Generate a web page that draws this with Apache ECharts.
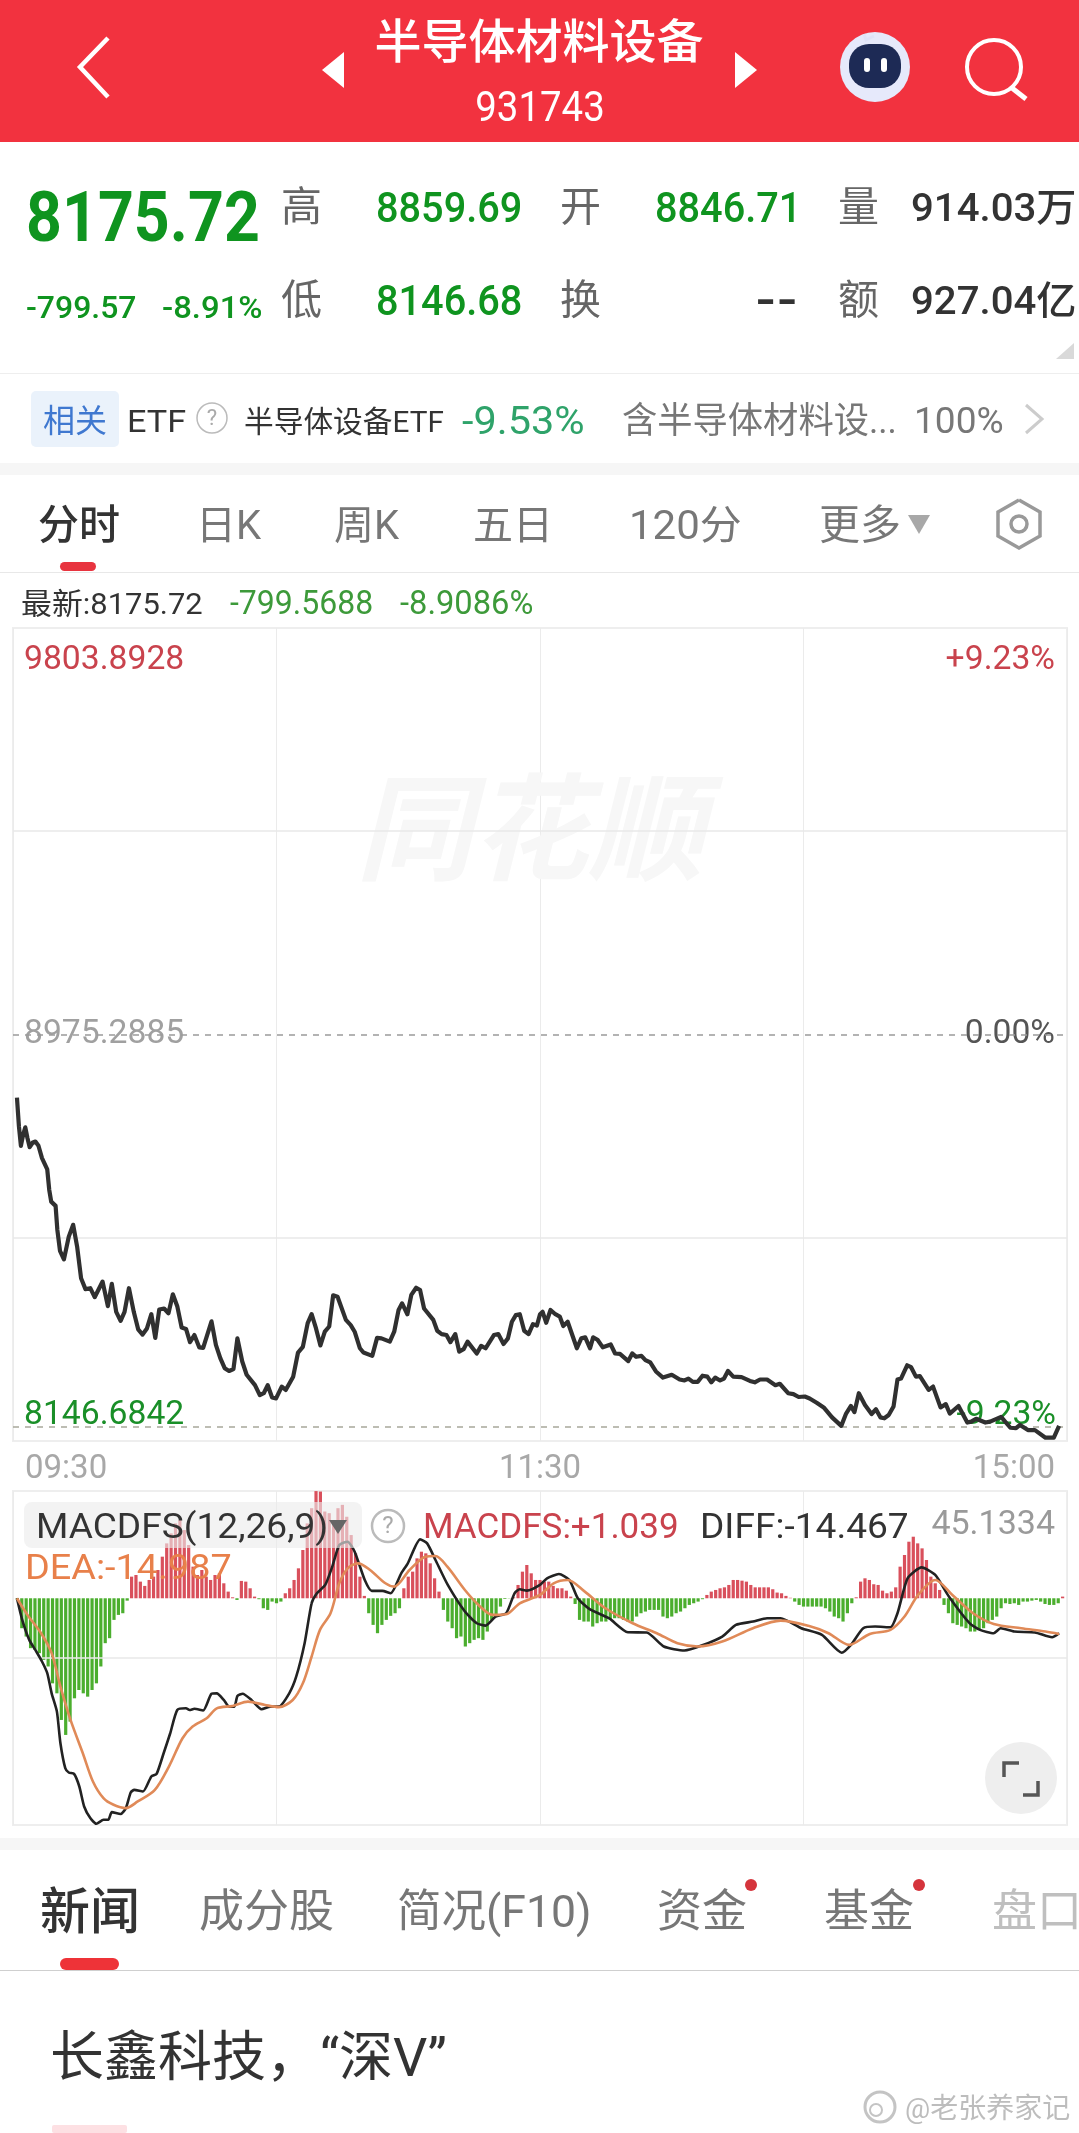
<!DOCTYPE html>
<html><head><meta charset="utf-8">
<style>html,body{margin:0;padding:0;background:#fff}#c{width:1079px;height:2133px}</style>
<script src="https://cdn.jsdelivr.net/npm/echarts@6/dist/echarts.min.js"></script>
</head><body><div id="c"></div>
<script>
const timeLabels = {0:'09:30',120:'11:30',240:'15:00'};
const priceTicks = ['9803.8928','8975.2885','8146.6842'];
const pctTicks = ['+9.23%','0.00%','-9.23%'];
const priceRange = [8116, 9834.5];
const macdRange = [-95.4, 45.1334];

const lineMinutes = [0.9,1.35,1.8,2.3,2.8,3.3,3.8,4.5,5.1,5.8,6.6,7.8,8.25,8.7,9.7,10.1,10.7,11.6,12.7,13.7,14.6,15.5,16.5,17.6,18.6,20.4,21.6,22.5,23.5,24.5,25.4,26.4,27.5,28.5,29.5,30.5,31.5,32.4,33.3,34.4,35.4,36.4,37.4,38.4,39.4,40.3,41.3,42.4,43.3,45.2,46.2,47.2,48.2,49.2,50.2,51.1,52.2,53.2,55.1,56.2,57.1,58,59,59.9,61.2,62.1,63.8,64.9,66,67.1,68,69,70,71,72,72.9,73.9,75.8,76.9,77.8,79,79.8,81.8,82.9,83.9,85.8,86.8,87.8,88.6,89.8,90.7,91.8,92.7,93.6,95.7,96.6,97.6,98.7,99.6,100.7,101.6,102.6,103.5,105.6,106.6,107.6,109.5,110.5,111.7,112.7,113.6,114.5,115.4,116.4,117.4,118.4,119.3,120,120.6,121.4,122.4,123.5,124.5,125.3,126.3,128.4,129.4,130.3,131.4,132.1,133.1,134.3,136.1,137.1,138.2,140.1,141,141.9,143.1,144,145.1,146.4,148,150,151.8,152.9,153.8,154.8,155.9,157,158.1,159,159.9,161,161.9,162.8,164,165.9,167.8,168.9,170.1,171.7,173.6,174.6,176.5,177.7,178.9,180.3,181.4,183,184.6,186.5,188.6,189.7,190.8,191.6,192.6,194,195.5,196.5,197.5,198.4,199.4,200.5,201.4,202.2,203.6,204.5,205.6,206.5,208.5,209.5,211.2,212.4,213.3,215.3,217.3,218.2,219.3,221.4,222.5,225,227.1,228.4,229.3,231.1,232.7,235.1,237,238.2];
const linePrices = [8842,8781,8740,8763,8779,8756,8737,8747,8749,8740,8714,8690,8647,8622,8613,8562,8518,8500,8548,8573,8527,8460,8437,8439,8420,8453,8401,8448,8389,8370,8389,8439,8389,8352,8341,8354,8384,8334,8394,8396,8386,8426,8401,8356,8353,8325,8340,8314,8313,8369,8319,8291,8270,8264,8268,8333,8284,8256,8234,8213,8217,8234,8208,8206,8231,8224,8252,8303,8315,8365,8384,8354,8318,8347,8358,8424,8421,8372,8361,8347,8312,8303,8296,8334,8333,8326,8347,8393,8407,8384,8425,8440,8435,8396,8372,8349,8342,8340,8325,8342,8305,8310,8326,8301,8317,8312,8340,8342,8321,8333,8368,8382,8384,8349,8342,8363,8360,8384,8389,8366,8393,8384,8379,8359,8368,8312,8333,8335,8312,8335,8330,8314,8320,8301,8300,8285,8301,8294,8296,8287,8282,8263,8250,8256,8246,8244,8248,8241,8241,8254,8252,8240,8250,8244,8248,8264,8252,8251,8243,8240,8246,8246,8234,8237,8217,8215,8209,8210,8206,8197,8187,8166,8148,8174,8190,8177,8217,8192,8173,8183,8166,8164,8171,8189,8246,8248,8276,8272,8252,8253,8224,8231,8187,8194,8174,8190,8155,8157,8163,8155,8157,8167,8144,8143,8150,8139,8139,8123,8123,8148];

const macdBars = [-0.7,-12.6,-16.1,-21,-21.7,-23.1,-25.9,-28.7,-35.8,-40,-51.2,-57.5,-51.9,-42.1,-38.6,-40,-41.4,-38.6,-35.8,-28.7,-18.9,-16.8,-9.1,-7,-6.3,-1,
9.1,9.8,7,5.2,7.7,9.1,11.9,17.5,23.1,27.3,31.5,32.9,28.7,22.4,13.3,9.8,11.9,9.1,7.7,9.8,10.5,6.3,2.8,0.4,-0.7,7.3,7,4.2,0.7,-0.4,-4.2,-4.9,-1.4,-2.1,-1.4,2.1,4.2,7.7,12.6,20.3,31.5,37.9,45.1,44.9,36.5,35.8,31.5,37.9,39.3,34.3,26.6,18.9,9.1,1,-6.3,-11.2,-14.7,-11.2,-9.1,-7.4,-6.3,-4.2,4.2,9.1,11.2,16.8,19.6,18.9,14.7,8.4,2.8,-4.9,-9.8,-12.6,-16.8,-16.1,-20.3,-18.9,-17.5,-16.8,-17.5,-14,-9.1,-7,-3.5,-0.3,-0.1,0.4,5.6,11.2,14,10.5,7.7,7.7,7,
7,5.2,4.2,4.2,3.2,0.7,-2.4,-9.1,-9.8,-9.8,-11.9,-10.5,-9.8,-9.8,-9.1,-8.4,-8.4,-9.1,-9.8,-9.8,-7.7,-6.3,-5.6,-4.9,-4.9,-4.9,-7.7,-8.4,-7.7,-6.3,-5.6,-4.2,-2.8,-2.1,-1.4,-0.4,1.4,2.8,3.5,4.2,4.6,5.6,7.7,7.7,7.4,7,5.6,4.6,4.6,4.6,4.6,3.8,2.4,2.1,1,0.2,-1.4,-2.8,-3.5,-3.5,-3.5,-3.5,-3.5,-4.2,-5.6,-7.7,-8.4,-9.8,-6.3,-2.1,0.4,7,8.4,7.7,5.9,5.6,3.2,2.1,2.8,4.6,13.3,18.2,23.8,25.9,23.1,21,16.1,9.1,6.3,3.5,-2.8,-6.3,-10.5,-11.2,-11.9,-12.6,-14,-14,-13.3,-12.6,-10.5,-9.1,-7.7,-4.2,-2.1,-2.4,-2.1,-2.8,-1.4,-1.4,-1,-0.7,-1.4,-2.4,-2.8,-2.8,-2.1,0.7];

const diffMinutes = [0.9,2.1,3.7,5.3,6.6,7.8,8.8,10,10.8,11.9,12.7,13.9,15.1,16.2,17.6,19,20.6,21.7,22.5,24.5,25.7,26.8,27.6,29.6,31.5,32.7,34.3,35.8,37.4,39.4,40.2,41.3,43.3,45.2,46.4,48,49.2,50.4,51.1,52.3,54.3,56.6,58.6,60.5,62.9,64.5,66.4,68,69.2,71.1,72.7,74.3,76.2,77.8,80.1,81.7,84.1,86,88.4,89.9,92.7,94.3,96.2,99,102.9,105.6,107.6,109.9,112.3,114.2,115.4,117,120,121.6,124.3,126.7,128.6,131.3,135.7,140,144.3,148.2,152.9,156.8,161.5,164.6,168.5,171.7,174.8,179.5,184.2,188.7,190.8,193.6,196.3,199.8,201.4,203.7,206.9,210,213.1,217.8,220.2,223.3,224.9,228,232.7,236.6,238.2];
const diffValues = [0,-9.1,-17.5,-22.4,-26.6,-31.5,-40,-47.7,-61,-71.5,-73.3,-73.9,-79.2,-87.6,-92.5,-94.9,-93.2,-93.2,-90,-90.8,-88.3,-81.7,-80.6,-81.3,-75,-73.9,-65.2,-56.8,-47,-46.3,-47,-46.5,-47.2,-40.2,-40,-42.8,-45.6,-45.6,-41.1,-40.2,-42.8,-46.7,-45.6,-45.6,-40,-32.9,-18.9,-2.1,2.1,5.6,13.3,22.4,23.8,19.6,7.7,3.1,3.1,2.1,10.5,14.7,24.8,23.1,16.1,5.6,-5.6,-10.5,-11.5,-7.7,-6.3,2.1,3.8,3.2,5.6,8.4,10.2,7.7,0,-4.6,-8.4,-14.3,-14.4,-20.3,-22,-19.9,-16.1,-11.2,-9.8,-8.4,-8.4,-12.6,-15.4,-22.9,-19.6,-12.6,-11.9,-12.2,-6.3,8.4,13,9.8,0.7,-10.5,-13.3,-14.7,-12.6,-14,-14.4,-16.4,-14.7];

const deaMinutes = [0.9,3.3,6.4,8.8,10.8,13.1,15.9,18.2,20.6,22.9,25.7,28.4,32.3,35.5,38.6,40.9,44.1,46.4,50,53.5,57.4,60.5,63.7,66,68,69.9,72.3,74.3,76.2,78.6,81.3,84.8,86.8,90.3,93.9,96.2,98.9,102.9,106,109.2,112.3,115.4,120,123.1,126.3,130.2,134.9,141.1,146.6,151.3,156,161.5,168.5,174.8,181.1,185.7,190.4,195.1,199.8,203,206.1,210,213.9,218.6,223.3,229.6,235.1,238.2];
const deaValues = [0,-7,-14.7,-23.1,-37.2,-51.2,-65.2,-77.1,-84.1,-86.9,-88.3,-85.5,-80.6,-70.8,-58.9,-54,-50.5,-46.3,-45.3,-43.5,-44.9,-45.8,-42.8,-35.8,-24.5,-13.3,-6.3,6.3,12.6,14.7,11.9,6.3,4.9,11.9,17.5,17.8,13.3,3.5,-2.8,-7,-6.7,-2.1,1.4,6.3,7.7,2.8,-4.2,-10.5,-14.7,-18.9,-20.3,-18.2,-12.6,-9.4,-11.6,-14.7,-19.6,-15,-13.3,-7.7,1.4,7.7,1.4,-6.3,-10.8,-12.6,-14,-15];

const zip = (a,b)=>a.map((v,i)=>[v,b[i]]);
const FONT = "Roboto,'Noto Sans CJK SC',sans-serif";
const G=[];
function T(x,y,text,size,fill,o={}){G.push({type:'text',x,y:y+12,z:o.z??100,scaleX:o.sx||1,scaleY:o.sy||1,silent:true,
  style:{text,fill,fontSize:size,fontFamily:o.ff||FONT,fontWeight:o.w||'normal',fontStyle:o.it||'normal',align:o.a||'left',verticalAlign:'middle',opacity:o.op??1}});}
function R(x,y,w,h,fill,r=0,z=50,op=1){G.push({type:'rect',z,silent:true,shape:{x,y,width:w,height:h,r},style:{fill,opacity:op}});}
function P(points,stroke,w,z=100){G.push({type:'polyline',z,silent:true,shape:{points},style:{stroke,lineWidth:w,fill:null}});}
function Tri(points,fill,z=100){G.push({type:'polygon',z,silent:true,shape:{points},style:{fill}});}
function C(cx,cy,r,fill,stroke,w,z=100){G.push({type:'circle',z,silent:true,shape:{cx,cy,r},style:{fill:fill||null,stroke:stroke||null,lineWidth:w||0}});}

const GREEN='#0f941f', GRAY='#777', DARK='#333', RED='#c9434d';
// header
R(0,0,1079,142,'#f2323f');
T(539,34,'半导体材料设备',47,'#fff',{a:'center',w:'500'});
T(540,98,'931743',40,'#fff',{a:'center',sy:1.05,sx:.96});
P([[108,38],[80,67],[108,97]],'#fff',4.5);
Tri([[344,52],[322,70],[344,88]],'#fff');
Tri([[735,52],[757,70],[735,88]],'#fff');
C(875,67,35,'#e6e9fb');
P([[874,36],[866,40],[864,34]],'#dfe3f8',3);
R(849,44,52,44,'#1d2a55',20,101);
R(864,58,6,14,'#fff',3,102); R(881,58,6,14,'#fff',3,102);
C(994,67,27,null,'#fff',4);
P([[1012,88],[1026,99]],'#fff',5);
// quote
T(26,211,'8175.72',70,GREEN,{w:'bold',sx:.895});
T(26,298,'-799.57',31,GREEN,{sx:1.03,w:'500'});
T(162,298,'-8.91%',31,GREEN,{sx:1.06,w:'500'});
T(281,199,'高',41,'#666'); T(281,292,'低',41,'#666');
T(376,199,'8859.69',42,GREEN,{sx:.945,w:'500'}); T(376,292,'8146.68',42,GREEN,{sx:.945,w:'500'});
T(560,199,'开',41,'#666'); T(560,292,'换',41,'#666');
T(655,199,'8846.71',42,GREEN,{sx:.945,w:'500'}); T(798,292,'--',42,DARK,{a:'right',w:'bold',sx:1.3});
T(838,199,'量',41,'#666'); T(838,292,'额',41,'#666');
T(911,199,'914.03万',39,DARK,{sx:1.03,w:'500'}); T(911,292,'927.04亿',39,DARK,{sx:1.03,w:'500'});
Tri([[1074,343],[1074,359],[1056,359]],'#d9d9d9');
R(0,373,1079,1,'#eeeeee');
// ETF row
R(31,391,88,56,'#eaf2fb',5);
T(75,412,'相关',32,'#3f78d0',{a:'center'});
T(127,412,'ETF',32,DARK,{sx:1.07});
C(212,418,15,null,'#bbb',1.5); T(212,407,'?',22,'#aaa',{a:'center'});
T(244,412,'半导体设备ETF',30,DARK,{sx:.99});
T(462,412,'-9.53%',38,'#2fa36a',{sx:1.09});
T(622,412,'含半导体材料设...',36,GRAY,{sx:.98});
T(914,412,'100%',36,GRAY,{sx:1.03});
P([[1026,405],[1042,419],[1026,433]],'#ccc',3);
R(0,463,1079,12,'#f6f6f6');
// tabs
T(38,517,'分时',41,DARK,{w:'500'});
T(196,517,'日K',40,GRAY);
T(334,517,'周K',40,GRAY);
T(473,517,'五日',40,GRAY);
T(629,517,'120分',40,GRAY,{sx:1.05});
T(819,517,'更多',41,GRAY);
Tri([[908,515],[930,515],[919,534]],'#a8a8a8');
P([[1019,500],[1040,512],[1040,536],[1019,548],[998,536],[998,512],[1019,500]],'#999',3.5);
C(1019,524,8,null,'#999',3.5);
R(60,562,36,9,'#e8343f',4.5);
R(0,572,1079,1,'#e8e8e8');
T(21,594,'最新:8175.72',30,DARK,{sx:1.03});
T(230,594,'-799.5688',33,'#3d9a3a',{sx:.97});
T(400,594,'-8.9086%',33,'#3d9a3a',{sx:.99});
// main panel text
T(530,830,'同花顺',116,'#f7f7f7',{a:'center',w:'bold',it:'italic',z:1});
T(24,648,priceTicks[0],34,RED,{sx:.99});
T(1055,648,pctTicks[0],34,RED,{a:'right',sx:.99});
T(24,1022,priceTicks[1],34,'#a0a0a0',{sx:.99,z:1});
T(1055,1022,pctTicks[1],34,'#555',{a:'right',sx:.99,z:1});
T(24,1403,priceTicks[2],34,'#1a8f28',{sx:.99,z:1});
T(1056,1403,pctTicks[2],34,'#1a8f28',{a:'right',sx:.99,z:1});
// macd labels
R(24,1502,338,46,'#ececec',8,60,.62);
T(36,1517,'MACDFS(12,26,9)',35,DARK,{sx:1.06});
Tri([[329,1520],[347,1520],[338,1534]],'#666');
C(388,1526,16,null,'#bbb',2.5); T(388,1515,'?',24,'#aaa',{a:'center'});
T(423,1517,'MACDFS:+1.039',35,RED,{sx:1});
T(700,1517,'DIFF:-14.467',35,DARK,{sx:1.06});
T(1055,1513,'45.1334',34,'#9a9a9a',{a:'right'});
T(25,1558,'DEA:-14.987',35,'#e8804a',{sx:1.08});
C(1021,1778,36,'#eeeeee');
P([[1004,1777],[1004,1763],[1019,1763]],'#555',3.5);
P([[1023,1795],[1038,1795],[1038,1781]],'#555',3.5);
// lower part
R(0,1838,1079,12,'#f6f6f6');
T(40,1904,'新闻',50,DARK,{w:'500'});
T(199,1904,'成分股',45,GRAY);
T(397,1904,'简况(F10)',45,GRAY,{sx:.99});
T(657,1904,'资金',45,GRAY); C(751,1885,6,'#d5343c');
T(824,1904,'基金',45,GRAY); C(919,1885,6,'#d5343c');
T(992,1904,'盘口',45,'#aaa',{op:.75});
R(60,1958,59,12,'#ee3338',6);
R(0,1970,1079,1,'#cfcfcf');
T(50,2050,'长鑫科技，“深V”',54,DARK);
C(880,2107,15,null,'#c4c4c4',3); C(876,2110,6,null,'#c4c4c4',2);
T(905,2099,'@老张养家记',28,'#bdbdbd');
R(52,2125,75,8,'#fde0e3',2);

const grid0={left:13,width:1054,top:628,height:813,show:true,borderColor:'#eeeeee',borderWidth:2,z:0};
const grid1={left:13,width:1054,top:1491,height:334,show:true,borderColor:'#eeeeee',borderWidth:2,z:0};
const xBase={type:'value',min:0,max:240,interval:60,splitLine:{show:true,lineStyle:{color:'#ebebeb',width:1}},axisLine:{show:false},axisTick:{show:false}};
const grayLine=v=>({yAxis:v,lineStyle:{color:'#e9e9e9',type:'solid',width:1.5}});
const dashLine=(v,c)=>({yAxis:v,lineStyle:{color:c,type:[6,6],width:1.5}});
const option={
  animation:false,
  backgroundColor:'#fff',
  grid:[grid0,grid1],
  xAxis:[
    {...xBase,gridIndex:0,axisLabel:{show:true,color:'#a8a8a8',fontSize:33,fontFamily:FONT,margin:12,alignMinLabel:'left',alignMaxLabel:'right',padding:[0,12,0,12],formatter:v=>timeLabels[v]||''}},
    {...xBase,gridIndex:1,axisLabel:{show:false}}
  ],
  yAxis:[
    {type:'value',gridIndex:0,min:priceRange[0],max:priceRange[1],splitLine:{show:false},axisLine:{show:false},axisTick:{show:false},axisLabel:{show:false}},
    {type:'value',gridIndex:1,min:macdRange[0],max:macdRange[1],splitLine:{show:false},axisLine:{show:false,onZero:false},axisTick:{show:false},axisLabel:{show:false}}
  ],
  series:[
    {type:'line',name:'price',xAxisIndex:0,yAxisIndex:0,data:zip(lineMinutes,linePrices),showSymbol:false,smooth:false,z:5,
      lineStyle:{color:'#303030',width:4.2,join:'round'},
      markLine:{silent:true,symbol:'none',label:{show:false},animation:false,z:2,
        data:[grayLine(9405),grayLine(8545.6),dashLine(+priceTicks[1],'#9a9a9a'),dashLine(+priceTicks[2],'#a8a89a')]}},
    {type:'bar',name:'MACDFS',xAxisIndex:1,yAxisIndex:1,data:macdBars.map((v,i)=>[i+1,v]),barWidth:3.2,z:3,
      itemStyle:{color:p=>p.value[1]>=0?'#d9505c':'#4bae2e'},
      markLine:{silent:true,symbol:'none',label:{show:false},animation:false,data:[grayLine(-25.13)]}},
    {type:'line',name:'DIFF',xAxisIndex:1,yAxisIndex:1,data:zip(diffMinutes,diffValues),showSymbol:false,z:5,smooth:.2,lineStyle:{color:'#222',width:2.6}},
    {type:'line',name:'DEA',xAxisIndex:1,yAxisIndex:1,data:zip(deaMinutes,deaValues),showSymbol:false,z:6,smooth:.3,lineStyle:{color:'#e08a58',width:2.6}}
  ],
  graphic:{elements:G}
};
const chart=echarts.init(document.getElementById('c'),null,{renderer:'canvas',width:1079,height:2133});
chart.setOption(option);
</script></body></html>
